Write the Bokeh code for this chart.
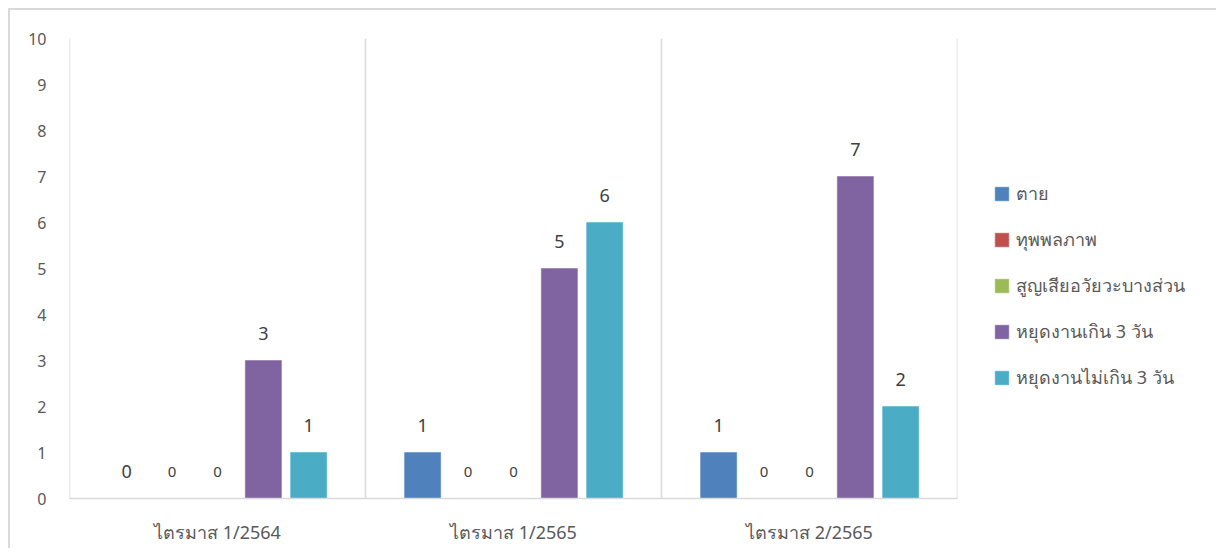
from bokeh.plotting import figure
from bokeh.models import (ColumnDataSource, FactorRange, LabelSet, Legend, LegendItem,
                          Span, Range1d, FixedTicker)
from bokeh.transform import dodge
from bokeh.core.properties import value
from bokeh.embed import file_html
from bokeh.resources import INLINE

categories = ["ไตรมาส 1/2564", "ไตรมาส 1/2565", "ไตรมาส 2/2565"]
series_names = ["ตาย", "ทุพพลภาพ", "สูญเสียอวัยวะบางส่วน", "หยุดงานเกิน 3 วัน", "หยุดงานไม่เกิน 3 วัน"]
death = [0, 1, 1]
disability = [0, 0, 0]
organ_loss = [0, 0, 0]
off_over3 = [3, 5, 7]
off_upto3 = [1, 6, 2]
colors = ["#4f81bd", "#c0504d", "#9bbb59", "#8064a2", "#4bacc6"]
label_sizes = ["18px", "15px", "15px", "18px", "18px"]
y_ticks = list(range(0, 11))

FONT = "Noto Sans"
TXT = "#595959"
GRID = "#d9d9d9"

series_values = [death, disability, organ_loss, off_over3, off_upto3]
keys = ["s0", "s1", "s2", "s3", "s4"]
data = {"cat": categories}
for k, v in zip(keys, series_values):
    data[k] = v
    data[k + "_txt"] = [str(x) for x in v]
source = ColumnDataSource(data)

p = figure(x_range=FactorRange(factors=categories, range_padding=0),
           y_range=Range1d(0, 10),
           frame_width=888, frame_height=460,
           min_border_left=59, min_border_right=251, min_border_top=28, min_border_bottom=50,
           output_backend="svg", toolbar_location=None, tools="")
p.styles = {"border-top": "2px solid #d9d9d9", "border-left": "2px solid #d9d9d9",
            "margin-left": "8px", "margin-top": "8px"}
p.outline_line_color = None
p.background_fill_color = "white"
p.border_fill_color = "white"

offsets = [-0.307, -0.154, 0.0, 0.155, 0.308]
bar_w = 0.122
renderers = []
for k, off, col, sz in zip(keys, offsets, colors, label_sizes):
    r = p.vbar(x=dodge("cat", off, range=p.x_range), top=k, width=bar_w, source=source,
               fill_color=col, line_color=col, line_width=0.5)
    renderers.append(r)
    lbl = LabelSet(x=dodge("cat", off, range=p.x_range), y=k, text=k + "_txt", source=source,
                   text_align="center", text_baseline="middle", y_offset=27,
                   text_font=value(FONT), text_font_size=sz, text_color="#404040")
    p.add_layout(lbl)

for i in range(len(categories) + 1):
    p.add_layout(Span(location=i, dimension="height", line_color=GRID, line_width=1.5))

p.xgrid.visible = False
p.ygrid.visible = False

p.yaxis.ticker = FixedTicker(ticks=y_ticks)
p.yaxis.axis_line_color = None
p.yaxis.major_tick_line_color = None
p.yaxis.minor_tick_line_color = None
p.yaxis.major_label_standoff = 17
p.yaxis.major_label_text_font = FONT
p.yaxis.major_label_text_font_size = "16px"
p.yaxis.major_label_text_color = TXT

p.xaxis.axis_line_color = GRID
p.xaxis.axis_line_width = 1.5
p.xaxis.major_tick_line_color = None
p.xaxis.minor_tick_line_color = None
p.xaxis.major_label_standoff = 15
p.xaxis.major_label_text_font = FONT
p.xaxis.major_label_text_font_size = "18px"
p.xaxis.major_label_text_color = TXT

legend = Legend(items=[LegendItem(label=n, renderers=[r]) for n, r in zip(series_names, renderers)],
                location=(36, 106), orientation="vertical",
                glyph_width=17, glyph_height=17, label_height=20, label_standoff=6,
                spacing=17, padding=0, margin=0,
                label_text_font=FONT, label_text_font_size="18px", label_text_color=TXT,
                border_line_color=None, background_fill_alpha=0)
p.add_layout(legend, "right")

open("out.html", "w").write(file_html(p, INLINE))
